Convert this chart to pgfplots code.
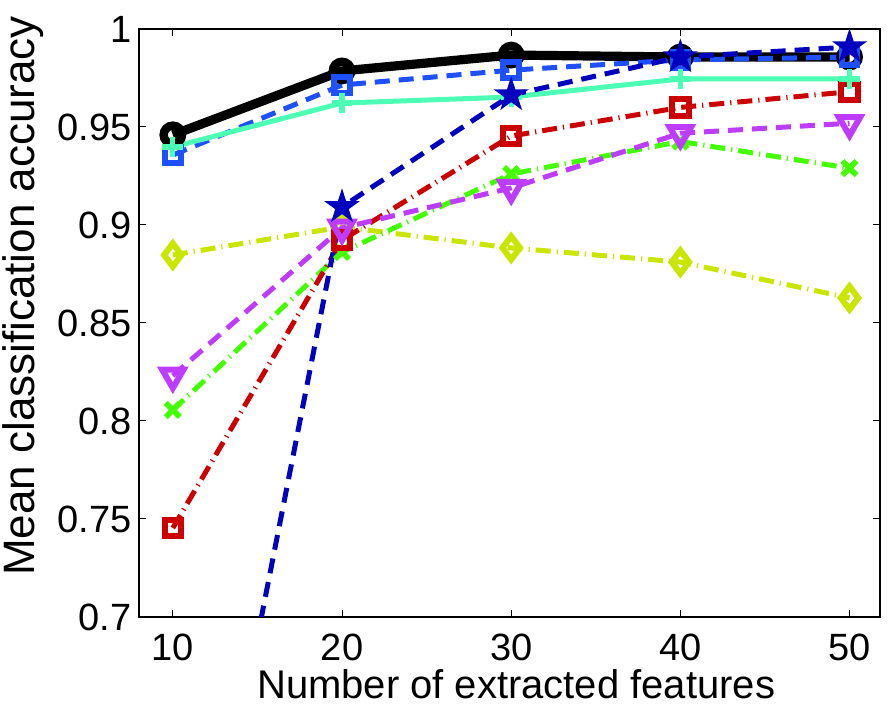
\documentclass[border=0pt]{standalone}
\usepackage{fontspec}
\setmainfont{Liberation Sans}
\usepackage{pgfplots}
\pgfplotsset{compat=1.18}
\definecolor{cblack}{RGB}{0,0,0}
\definecolor{clblue}{RGB}{30,80,255}
\definecolor{ccyan}{RGB}{77,255,180}
\definecolor{cdblue}{RGB}{0,0,190}
\definecolor{cred}{RGB}{204,0,0}
\definecolor{cpurple}{RGB}{190,60,255}
\definecolor{cgreen}{RGB}{68,255,0}
\definecolor{cyellow}{RGB}{200,230,0}
\pgfdeclareplotmark{pentagram}{%
  \pgfpathmoveto{\pgfpointpolar{90}{\pgfplotmarksize}}%
  \pgfpathlineto{\pgfpointpolar{126}{0.382\pgfplotmarksize}}%
  \pgfpathlineto{\pgfpointpolar{162}{\pgfplotmarksize}}%
  \pgfpathlineto{\pgfpointpolar{198}{0.382\pgfplotmarksize}}%
  \pgfpathlineto{\pgfpointpolar{234}{\pgfplotmarksize}}%
  \pgfpathlineto{\pgfpointpolar{270}{0.382\pgfplotmarksize}}%
  \pgfpathlineto{\pgfpointpolar{306}{\pgfplotmarksize}}%
  \pgfpathlineto{\pgfpointpolar{342}{0.382\pgfplotmarksize}}%
  \pgfpathlineto{\pgfpointpolar{18}{\pgfplotmarksize}}%
  \pgfpathlineto{\pgfpointpolar{54}{0.382\pgfplotmarksize}}%
  \pgfpathclose
  \pgfusepathqfillstroke
}
\tikzset{
  mdashed/.style={dash pattern=on 7.5pt off 4.5pt},
  mdashdot/.style={dash pattern=on 7.5pt off 3pt on 0.6pt off 3pt},
}
\begin{document}
\begin{tikzpicture}
\begin{axis}[
  scale only axis,
  width=370.5pt, height=294pt,
  xmin=8, xmax=51.8,
  ymin=0.7, ymax=1,
  xtick={10,20,30,40,50},
  ytick={0.7,0.75,0.8,0.85,0.9,0.95,1},
  yticklabels={0.7,0.75,0.8,0.85,0.9,0.95,1},
  /pgf/number format/assume math mode=true,
  tick align=inside,
  major tick length=3.5pt,
  tick style={black, line width=0.5pt},
  axis line style={black, line width=0.6pt},
  ticklabel style={font=\fontsize{19}{22}\selectfont},
  yticklabel style={inner sep=0pt, xshift=-3.5pt},
  xticklabel style={inner sep=0pt, yshift=-8.5pt},
  xlabel={Number of extracted features},
  ylabel={Mean classification accuracy},
  xlabel style={font=\fontsize{20}{24}\selectfont, at={(axis description cs:0.509,-0.114)}, anchor=center, inner sep=0pt},
  ylabel style={font=\fontsize{22}{26}\selectfont, at={(axis description cs:-0.1404,0.546)}, anchor=base, inner sep=0pt},
]
% yellow diamonds
\addplot[color=cyellow, line width=2.5pt, mdashdot] coordinates {(10,0.8847) (20,0.8990) (30,0.8883) (40,0.8811) (50,0.8628)};
\addplot[color=cyellow, only marks, mark=diamond, mark size=5.8pt, mark options={solid, line width=3pt}] coordinates {(10,0.8847) (20,0.8990) (30,0.8883) (40,0.8811) (50,0.8628)};
% green x
\addplot[color=cgreen, line width=2.5pt, mdashdot] coordinates {(10,0.8056) (20,0.8862) (30,0.9260) (40,0.9426) (50,0.9290)};
\addplot[color=cgreen, only marks, mark=x, mark size=5pt, mark options={solid, line width=2.8pt}] coordinates {(10,0.8056) (20,0.8862) (30,0.9260) (40,0.9426) (50,0.9290)};
% red squares
\addplot[color=cred, line width=2.5pt, mdashdot] coordinates {(10,0.7454) (20,0.8923) (30,0.9454) (40,0.9600) (50,0.9680)};
\addplot[color=cred, only marks, mark=square, mark size=4.1pt, mark options={solid, line width=3pt}] coordinates {(10,0.7454) (20,0.8923) (30,0.9454) (40,0.9600) (50,0.9680)};
% purple triangles down
\addplot[color=cpurple, line width=2.5pt, mdashed] coordinates {(10,0.8231) (20,0.8985) (30,0.9189) (40,0.9468) (50,0.9519)};
\addplot[color=cpurple, only marks, mark=triangle, mark size=6.2pt, mark options={solid, rotate=180, line width=3pt}] coordinates {(10,0.8231) (20,0.8985) (30,0.9189) (40,0.9468) (50,0.9519)};
% black circles
\addplot[color=cblack, line width=4.6pt] coordinates {(10,0.9460) (20,0.9786) (30,0.9867) (40,0.9857) (50,0.9857)};
\addplot[color=cblack, only marks, mark=o, mark size=4.6pt, mark options={solid, line width=4.2pt}] coordinates {(10,0.9460) (20,0.9786) (30,0.9867) (40,0.9857) (50,0.9857)};
% light blue squares
\addplot[color=clblue, line width=2.5pt, mdashed] coordinates {(10,0.9357) (20,0.9714) (30,0.9790) (40,0.9842) (50,0.9857)};
\addplot[color=clblue, only marks, mark=square, mark size=3.9pt, mark options={solid, line width=3pt}] coordinates {(10,0.9357) (20,0.9714) (30,0.9790) (40,0.9842) (50,0.9857)};
% cyan plus
\addplot[color=ccyan, line width=2.5pt] coordinates {(10,0.9398) (20,0.9622) (30,0.9653) (40,0.9745) (50,0.9745)};
\addplot[color=ccyan, only marks, mark=+, mark size=5.2pt, mark options={solid, line width=2.6pt}] coordinates {(10,0.9398) (20,0.9622) (30,0.9653) (40,0.9745) (50,0.9745)};
% dark blue stars
\addplot[color=cdblue, line width=2.5pt, mdashed] coordinates {(10,0.4700) (20,0.9092) (30,0.9663) (40,0.9857) (50,0.9908)};
\addplot[color=cdblue, only marks, mark=pentagram, mark size=8pt, mark options={solid, line width=0.8pt, fill=cdblue}] coordinates {(10,0.4700) (20,0.9092) (30,0.9663) (40,0.9857) (50,0.9908)};
\end{axis}
\pgfresetboundingbox
\path[use as bounding box] (-69.5pt,-46pt) rectangle (376pt,308.5pt);
\end{tikzpicture}
\end{document}
